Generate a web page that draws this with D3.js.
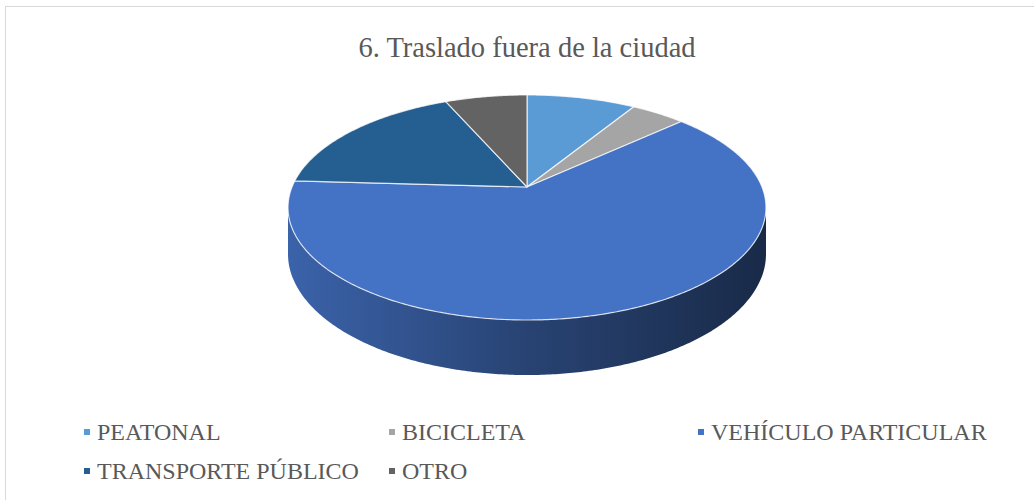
<!DOCTYPE html>
<html>
<head>
<meta charset="utf-8">
<script src="https://cdn.jsdelivr.net/npm/d3@7"></script>
<style>
  html, body { margin: 0; padding: 0; background: #ffffff; overflow: hidden; }
  svg { display: block; }
</style>
</head>
<body>
<script>
// Chart data
const categories = ["PEATONAL", "BICICLETA", "VEHÍCULO PARTICULAR", "TRANSPORTE PÚBLICO", "OTRO"];
const shares = [8.8, 4.4, 62.7, 17.5, 6.6];
const colors = ["#5B9BD5", "#A5A5A5", "#4472C4", "#255E91", "#636363"];
const chartTitle = "6. Traslado fuera de la ciudad";

const W = 1034, H = 500;
const serif = "'Liberation Serif'";
const textColor = "#595959";
const svg = d3.select("body").append("svg").attr("width", W).attr("height", H);

// Chart frame
svg.append("rect")
  .attr("x", 5.5).attr("y", 6.5)
  .attr("width", 1200).attr("height", 700)
  .attr("fill", "#ffffff").attr("stroke", "#D9D9D9").attr("stroke-width", 1);

// Title
svg.append("text")
  .attr("x", 527).attr("y", 57)
  .attr("text-anchor", "middle")
  .style("font-family", serif)
  .style("font-size", "28.5px")
  .attr("fill", textColor)
  .text(chartTitle);

// 3D pie projection: angle measured clockwise from the far edge of the disc
const cx = 527, cy = 187;      // projected centre of the disc top
const rx = 235, ry = 108.8;    // horizontal / depth radii
const persp = 0.182;           // perspective strength (near side is larger)
const thick = 45;              // disc thickness

function project(theta, r, drop) {
  const u = r * Math.sin(theta);
  const v = -r * Math.cos(theta);
  const s = 1 / (1 - persp * v);
  return [cx + rx * u * s, cy + ry * v * s + drop * s];
}

const pie = d3.pie().sort(null).value(d => d)(shares);
const line = d3.line();

function arcPoints(a0, a1, drop) {
  const n = Math.max(2, Math.ceil((a1 - a0) / 0.01));
  return d3.range(n + 1).map(i => project(a0 + (a1 - a0) * i / n, 1, drop));
}

const defs = svg.append("defs");
const g = svg.append("g");

// Visible front wall spans between the silhouette angles
const frontStart = Math.acos(-persp);
const frontEnd = 2 * Math.PI - Math.acos(-persp);

pie.forEach((d, i) => {
  const a0 = Math.max(d.startAngle, frontStart);
  const a1 = Math.min(d.endAngle, frontEnd);
  if (a1 <= a0) return;
  const base = d3.color(colors[i]);
  const grad = defs.append("linearGradient")
    .attr("id", "wall" + i)
    .attr("gradientUnits", "userSpaceOnUse")
    .attr("x1", cx - rx * 1.02).attr("x2", cx + rx * 1.02)
    .attr("y1", 0).attr("y2", 0);
  grad.append("stop").attr("offset", 0).attr("stop-color", base.darker(0.4));
  grad.append("stop").attr("offset", 0.5).attr("stop-color", base.darker(1.5));
  grad.append("stop").attr("offset", 1).attr("stop-color", base.darker(2.8));
  const top = arcPoints(a0, a1, 0);
  const bottom = arcPoints(a0, a1, thick).reverse();
  g.append("path")
    .attr("d", line(top.concat(bottom)) + "Z")
    .attr("fill", "url(#wall" + i + ")")
    .attr("stroke", "none");
});

// Top faces of the slices
pie.forEach((d, i) => {
  const pts = [project(0, 0, 0)].concat(arcPoints(d.startAngle, d.endAngle, 0));
  g.append("path")
    .attr("d", line(pts) + "Z")
    .attr("fill", colors[i])
    .attr("stroke", "#ffffff")
    .attr("stroke-opacity", 0.75)
    .attr("stroke-width", 1.2)
    .attr("stroke-linejoin", "round");
});

// Legend
const legendCols = [84, 389, 698];
const legendRows = [440, 479];
categories.forEach((name, i) => {
  const x = legendCols[i % 3];
  const y = legendRows[Math.floor(i / 3)];
  svg.append("rect")
    .attr("x", x).attr("y", y - 11)
    .attr("width", 6).attr("height", 6)
    .attr("fill", colors[i]);
  svg.append("text")
    .attr("x", x + 13).attr("y", y)
    .style("font-family", serif)
    .style("font-size", "24px")
    .attr("fill", textColor)
    .text(name);
});
</script>
</body>
</html>
